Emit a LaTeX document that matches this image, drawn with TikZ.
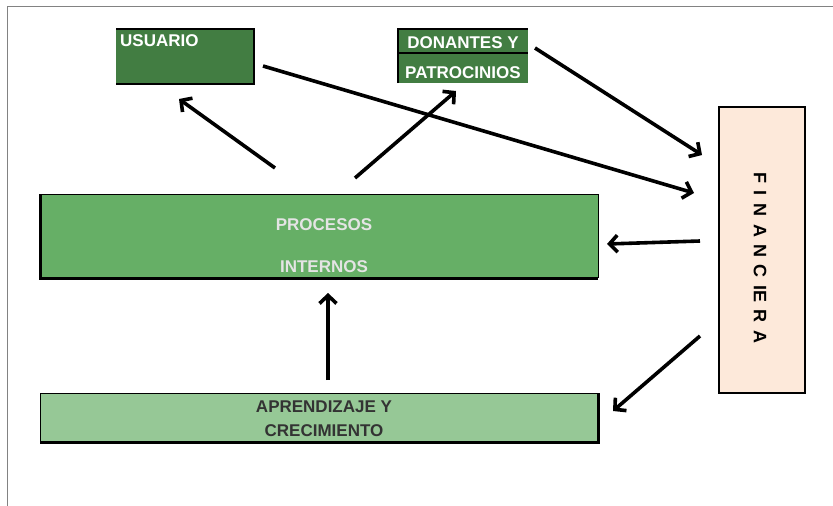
\documentclass[tikz,border=0pt]{standalone}
\usepackage{fontspec}
\setmainfont{Liberation Sans}
\usetikzlibrary{arrows.meta}

\definecolor{darkgreen}{RGB}{66,125,66}
\definecolor{midgreen}{RGB}{102,175,102}
\definecolor{lightgreen}{RGB}{150,200,150}
\definecolor{peach}{RGB}{253,233,218}
\definecolor{lightgraytext}{RGB}{228,228,228}
\definecolor{darktext}{RGB}{51,51,51}
\definecolor{framegray}{RGB}{130,130,130}

\tikzset{
  box/.style={rectangle, anchor=north west, inner sep=0pt, outer sep=0pt},
  label17/.style={font=\fontsize{17}{20}\selectfont\bfseries, inner sep=0pt},
  flow/.style={line width=3.6pt, -{Straight Barb[length=8pt,width=17pt,line width=3.6pt]}},
  edge/.style={line width=1.4pt, black}
}

\begin{document}
\begin{tikzpicture}[x=1pt,y=-1pt]
  \useasboundingbox (0,0) rectangle (833,506);

  % outer frame (top and left edges)
  \draw[framegray, line width=1pt] (7,506) -- (7,6) -- (833,6);

  % USUARIO
  \node[box, fill=darkgreen, minimum width=138pt, minimum height=55pt] (usr) at (116,29) {};
  \draw[edge] (usr.north west) -- (usr.north east) -- (usr.south east) -- (usr.south west);
  \node[label17, white, anchor=base west] (usrtxt) at (120,46) {USUARIO};

  % DONANTES Y PATROCINIOS
  \node[box, fill=darkgreen, minimum width=130pt, minimum height=54pt] (don) at (398,29) {};
  \draw[edge] (don.south west) -- (don.north west) -- (don.north east);
  \draw[edge] ([yshift=-24pt]don.north west) -- ([yshift=-24pt]don.north east);
  \node[label17, white, anchor=base] (dontxt) at (463,48) {DONANTES Y};
  \node[label17, white, anchor=base] (pattxt) at (463,78) {PATROCINIOS};

  % FINANCIERA
  \node[box, fill=peach, draw=black, line width=1.6pt, minimum width=86pt, minimum height=286pt] (fin) at (719,107) {};
  \node[font=\fontsize{18}{20}\selectfont\bfseries, rotate=-90, inner sep=0pt] (fintxt) at (760,258)
    {\spaceskip=7.5pt F I N A N C IE R A};

  % PROCESOS INTERNOS
  \node[box, fill=midgreen, minimum width=558pt, minimum height=84pt] (pro) at (40,194) {};
  \draw[line width=1pt] (pro.north west) -- (pro.north east) -- (pro.south east);
  \draw[line width=3pt] (pro.north west) -- (pro.south west) -- (pro.south east);
  \node[label17, lightgraytext, anchor=base] (protxt1) at (324,230) {PROCESOS};
  \node[label17, lightgraytext, anchor=base] (protxt2) at (324,272) {INTERNOS};

  % APRENDIZAJE Y CRECIMIENTO
  \node[box, fill=lightgreen, minimum width=558pt, minimum height=49pt] (apr) at (40,393) {};
  \draw[line width=1pt] (apr.south west) -- (apr.north west) -- (apr.north east);
  \draw[line width=3pt] (apr.north east) -- (apr.south east) -- (apr.south west);
  \node[label17, darktext, anchor=base] (aprtxt1) at (324,412) {APRENDIZAJE Y};
  \node[label17, darktext, anchor=base] (aprtxt2) at (324,436) {CRECIMIENTO};

  % arrow end points
  \coordinate (a1s) at (275,168); \coordinate (a1e) at (179,99);
  \coordinate (a2s) at (355,178); \coordinate (a2e) at (456,91);
  \coordinate (a3s) at (263,66);  \coordinate (a3e) at (694,193);
  \coordinate (a4s) at (535,48);  \coordinate (a4e) at (702,155);
  \coordinate (a5s) at (700,241); \coordinate (a5e) at (607,244);
  \coordinate (a6s) at (700,336); \coordinate (a6e) at (613,411);
  \coordinate (a7s) at (328,380); \coordinate (a7e) at (328,293);

  % arrows
  \draw[flow] (a1s) -- (a1e);
  \draw[flow] (a2s) -- (a2e);
  \draw[flow] (a3s) -- (a3e);
  \draw[flow] (a4s) -- (a4e);
  \draw[flow] (a5s) -- (a5e);
  \draw[flow] (a6s) -- (a6e);
  \draw[flow] (a7s) -- (a7e);
\end{tikzpicture}
\end{document}
